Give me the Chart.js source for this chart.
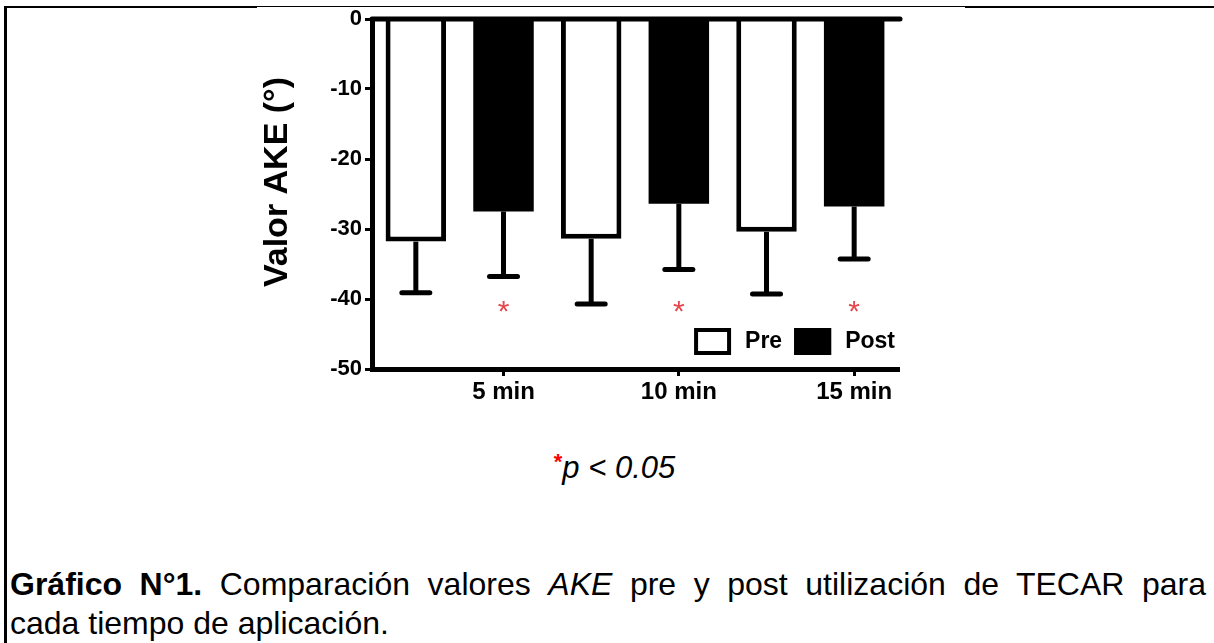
<!DOCTYPE html>
<html>
<head>
<meta charset="utf-8">
<script src="https://cdn.jsdelivr.net/npm/chart.js@4.4.1/dist/chart.umd.min.js"></script>
<style>
html,body{margin:0;padding:0;background:#fff;}
body{width:1214px;height:643px;position:relative;overflow:hidden;font-family:"Liberation Sans",Arial,sans-serif;color:#000;}
.rule{position:absolute;background:#000;}
#chartBox{position:absolute;left:0;top:0;width:1214px;height:440px;}
#pnote{position:absolute;left:0;top:444px;width:1214px;text-align:center;font-size:31px;line-height:36px;font-style:italic;padding-left:15px;box-sizing:border-box;}
#pnote .star{color:#ff0000;font-style:normal;font-weight:bold;font-size:22px;vertical-align:9px;}
#caption{position:absolute;left:10px;top:565px;width:1196px;font-size:32px;line-height:39px;}
#caption .l1{text-align:justify;text-align-last:justify;white-space:nowrap;}
</style>
</head>
<body>
<div class="rule" style="left:4px;top:6px;width:3px;height:637px"></div>
<div class="rule" style="left:4px;top:6px;width:253px;height:2px"></div>
<div class="rule" style="left:257px;top:6px;width:708px;height:1px"></div>
<div class="rule" style="left:965px;top:6px;width:249px;height:2px"></div>

<div id="chartBox"><canvas id="akeChart" width="1214" height="440"></canvas></div>

<div id="pnote"><span class="star">*</span>p &lt; 0.05</div>
<div id="caption">
  <div class="l1" style="white-space:normal"><b>Gráfico N°1.</b> Comparación valores <i>AKE</i> pre y post utilización de TECAR para</div>
  <div>cada tiempo de aplicación.</div>
</div>

<script>
// ── data ──
const categories=['5 min','10 min','15 min'];
const preMean=[-31.8,-31.4,-30.4];
const preSd=[7.3,9.3,8.9];
const postMean=[-27.5,-26.4,-26.8];
const postSd=[9.3,9.4,7.5];
const significant=[true,true,true];
const yMin=-50, yMax=0, yStep=10;
const sigMarkValue=-41;
const yTitle='Valor AKE (°)';

// each category gets two slots: Pre, then Post (label sits under Post)
const slotLabels=[], preData=[], postData=[], preErr=[], postErr=[];
categories.forEach((c,i)=>{
  slotLabels.push('',c);
  preData.push(preMean[i],null);
  postData.push(null,postMean[i]);
  preErr.push(preSd[i],null);
  postErr.push(null,postSd[i]);
});

const FONT='"Liberation Sans", Arial, sans-serif';

const decorPlugin={
  id:'decor',
  afterDatasetsDraw(chart){
    const {ctx,chartArea,scales:{y}}=chart;
    ctx.save();
    ctx.strokeStyle='#000';
    ctx.lineWidth=5;
    // error bars (downward only)
    [preErr,postErr].forEach((errs,di)=>{
      const meta=chart.getDatasetMeta(di);
      meta.data.forEach((bar,i)=>{
        const sd=errs[i];
        if(sd==null)return;
        const v=chart.data.datasets[di].data[i];
        const yEnd=y.getPixelForValue(v-sd);
        ctx.lineCap='butt';
        ctx.beginPath();
        ctx.moveTo(bar.x,bar.y);
        ctx.lineTo(bar.x,yEnd);
        ctx.stroke();
        ctx.lineCap='round';
        ctx.beginPath();
        ctx.moveTo(bar.x-14,yEnd);
        ctx.lineTo(bar.x+14,yEnd);
        ctx.stroke();
      });
    });
    // zero line across the top
    ctx.lineCap='round';
    const y0=y.getPixelForValue(0);
    ctx.beginPath();
    ctx.moveTo(chartArea.left,y0);
    ctx.lineTo(chartArea.right+2,y0);
    ctx.stroke();
    // significance marks
    ctx.fillStyle='#e4474d';
    ctx.font='30px '+FONT;
    ctx.textAlign='center';
    const postMeta=chart.getDatasetMeta(1);
    let k=0;
    postMeta.data.forEach((bar,i)=>{
      if(postData[i]==null)return;
      if(significant[k++]){
        const m=ctx.measureText('*');
        const cy=y.getPixelForValue(sigMarkValue);
        ctx.fillText('*',bar.x,cy+(m.actualBoundingBoxAscent-m.actualBoundingBoxDescent)/2);
      }
    });
    // legend, bottom-right inside the plot
    const ds=chart.data.datasets;
    ctx.font='bold 23px '+FONT;
    ctx.textAlign='left';
    ctx.textBaseline='middle';
    const ly=chartArea.bottom-28;
    let lx=chartArea.right-3;
    const items=[];
    for(let d=ds.length-1;d>=0;d--){
      const tw=ctx.measureText(ds[d].label).width;
      lx-=tw;
      const tx=lx;
      lx-=14;
      lx-=37;
      items.push({d,bx:lx,tx});
      lx-=12;
    }
    items.forEach(it=>{
      ctx.fillStyle=ds[it.d].backgroundColor;
      ctx.fillRect(it.bx,ly-13,37,27);
      ctx.lineWidth=4;
      ctx.strokeStyle='#000';
      ctx.strokeRect(it.bx+2,ly-11,33,23);
      ctx.fillStyle='#000';
      ctx.fillText(ds[it.d].label,it.tx,ly+1);
    });
    // y axis title
    ctx.save();
    ctx.font='bold 34px '+FONT;
    ctx.textAlign='center';
    ctx.textBaseline='alphabetic';
    ctx.translate(chartArea.left-85,(chartArea.top+chartArea.bottom)/2-12);
    ctx.rotate(-Math.PI/2);
    ctx.fillText(yTitle,0,0);
    ctx.restore();
    ctx.restore();
  }
};

new Chart(document.getElementById('akeChart'),{
  type:'bar',
  data:{
    labels:slotLabels,
    datasets:[
      {label:'Pre',data:preData,backgroundColor:'#ffffff',borderColor:'#000',borderWidth:5,borderSkipped:'start'},
      {label:'Post',data:postData,backgroundColor:'#000000',borderWidth:0}
    ]
  },
  options:{
    responsive:false,
    animation:false,
    devicePixelRatio:1,
    layout:{padding:{left:250,right:316,top:19,bottom:21}},
    datasets:{bar:{skipNull:true,categoryPercentage:1,barPercentage:0.69}},
    plugins:{legend:{display:false},tooltip:{enabled:false}},
    scales:{
      x:{
        afterFit(s){s.height=50;},
        grid:{offset:false,drawOnChartArea:false,drawTicks:true,tickLength:7,lineWidth:3,
          color:c=>slotLabels[c.index]?'#000':'rgba(0,0,0,0)'},
        border:{display:true,color:'#000',width:5},
        ticks:{color:'#000',font:{family:FONT,size:24,weight:'bold'},padding:2,autoSkip:false,maxRotation:0}
      },
      y:{
        min:yMin,max:yMax,
        afterFit(s){s.width=122;},
        grid:{drawOnChartArea:false,drawTicks:true,tickLength:7,lineWidth:3,color:'#000'},
        border:{display:true,color:'#000',width:5},
        ticks:{stepSize:yStep,color:'#000',font:{family:FONT,size:22,weight:'bold'},padding:3},
        title:{display:false}
      }
    }
  },
  plugins:[decorPlugin]
});
</script>
</body>
</html>
